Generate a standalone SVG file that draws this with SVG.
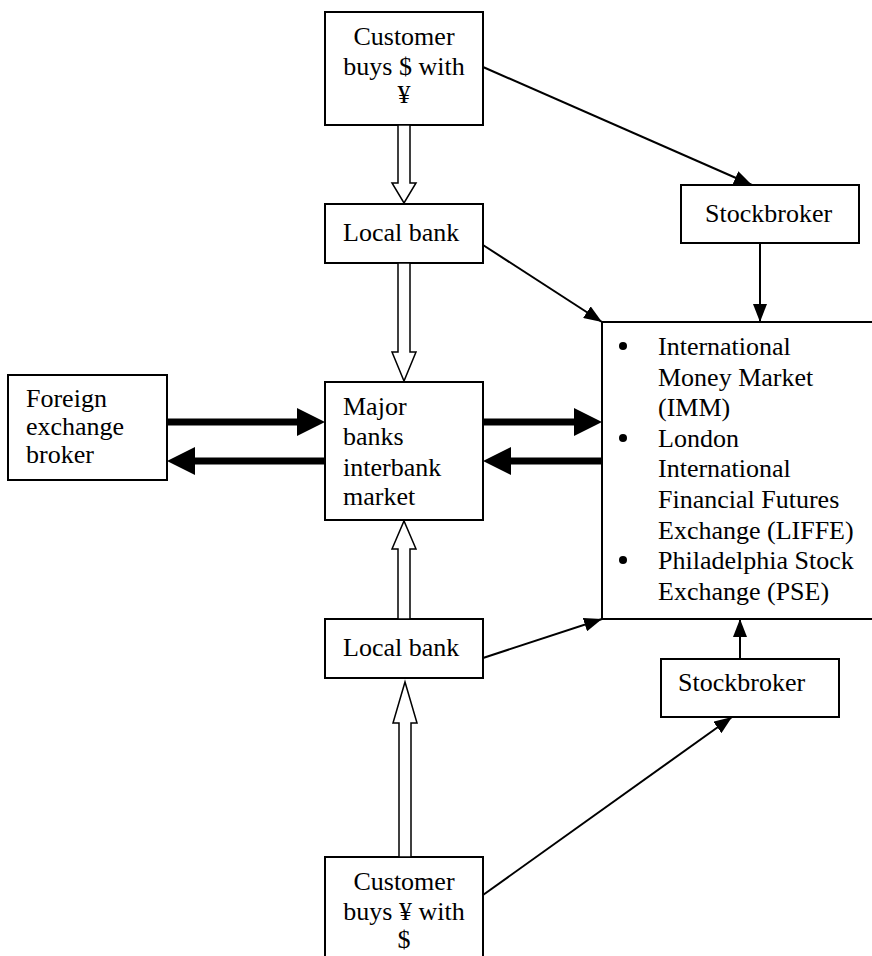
<svg xmlns="http://www.w3.org/2000/svg" width="872" height="956" viewBox="0 0 872 956">
<style>
.box{fill:#fff;stroke:#000;stroke-width:2}
.t{font-family:"Liberation Serif","Times New Roman",serif;font-size:26px;fill:#000}
.c{text-anchor:middle}
.ln{stroke:#000;stroke-width:2;fill:none;marker-end:url(#ah)}
.hollow{fill:#fff;stroke:#000;stroke-width:1.5}
.thick{fill:#000;stroke:none}
</style>
<defs>
<marker id="ah" markerUnits="userSpaceOnUse" markerWidth="18" markerHeight="14" refX="18" refY="7" orient="auto">
<path d="M0,0 L18,7 L0,14 z" fill="#000"/>
</marker>
</defs>
<rect width="872" height="956" fill="#fff"/>

<g id="customer-top">
<rect class="box" x="325" y="12" width="158" height="113"/>
<text class="t c" x="404" y="45">Customer</text>
<text class="t c" x="404" y="75">buys $ with</text>
<text class="t c" x="404" y="103">¥</text>
</g>

<g id="stockbroker-top">
<rect class="box" x="681" y="185" width="178" height="58"/>
<text class="t" x="705" y="222">Stockbroker</text>
</g>

<g id="localbank-top">
<rect class="box" x="325" y="204" width="158" height="59"/>
<text class="t" x="343" y="241">Local bank</text>
</g>

<g id="fx-broker">
<rect class="box" x="8" y="375" width="159" height="105"/>
<text class="t" x="26" y="407">Foreign</text>
<text class="t" x="26" y="435">exchange</text>
<text class="t" x="26" y="463">broker</text>
</g>

<g id="major-banks">
<rect class="box" x="325" y="382" width="158" height="138"/>
<text class="t" x="343" y="415">Major</text>
<text class="t" x="343" y="445">banks</text>
<text class="t" x="343" y="476">interbank</text>
<text class="t" x="343" y="505">market</text>
</g>

<g id="exchanges">
<rect class="box" x="602" y="322" width="280" height="297"/>
<circle cx="623" cy="346" r="4"/>
<circle cx="623" cy="438" r="4"/>
<circle cx="623" cy="560" r="4"/>
<text class="t" x="658" y="355">International</text>
<text class="t" x="658" y="386">Money Market</text>
<text class="t" x="658" y="416">(IMM)</text>
<text class="t" x="658" y="447">London</text>
<text class="t" x="658" y="477">International</text>
<text class="t" x="658" y="508">Financial Futures</text>
<text class="t" x="658" y="539">Exchange (LIFFE)</text>
<text class="t" x="658" y="569">Philadelphia Stock</text>
<text class="t" x="658" y="600">Exchange (PSE)</text>
</g>

<g id="localbank-bottom">
<rect class="box" x="325" y="619" width="158" height="59"/>
<text class="t" x="343" y="656">Local bank</text>
</g>

<g id="stockbroker-bottom">
<rect class="box" x="661" y="659" width="178" height="58"/>
<text class="t" x="678" y="691">Stockbroker</text>
</g>

<g id="customer-bottom">
<rect class="box" x="325" y="857" width="158" height="120"/>
<text class="t c" x="404" y="890">Customer</text>
<text class="t c" x="404" y="920">buys ¥ with</text>
<text class="t c" x="404" y="948">$</text>
</g>

<g id="connectors">
<polygon class="hollow" points="398,125 410,125 410,183 416,183 404,203 392,183 398,183"/>
<polygon class="hollow" points="398,263 410,263 410,352 416,352 404,381 392,352 398,352"/>
<polygon class="hollow" points="398,619 410,619 410,549 416,549 404,521 392,549 398,549"/>
<polygon class="hollow" points="399,857 411,857 411,723 417,723 405,682 393,723 399,723"/>

<polygon class="thick" points="167,418.5 297,418.5 297,408 325,422 297,436 297,425.5 167,425.5"/>
<polygon class="thick" points="325,457.5 195,457.5 195,447 167,461 195,475 195,464.5 325,464.5"/>
<polygon class="thick" points="483,418.5 574,418.5 574,408 602,422 574,436 574,425.5 483,425.5"/>
<polygon class="thick" points="602,457.5 511,457.5 511,447 483,461 511,475 511,464.5 602,464.5"/>

<line class="ln" x1="483" y1="67" x2="752" y2="185"/>
<line class="ln" x1="483" y1="245" x2="602" y2="322"/>
<line class="ln" x1="760" y1="243" x2="760" y2="322"/>
<line class="ln" x1="483" y1="658" x2="602" y2="619"/>
<line class="ln" x1="740" y1="659" x2="740" y2="619"/>
<line class="ln" x1="483" y1="895" x2="732" y2="717"/>
</g>
</svg>
